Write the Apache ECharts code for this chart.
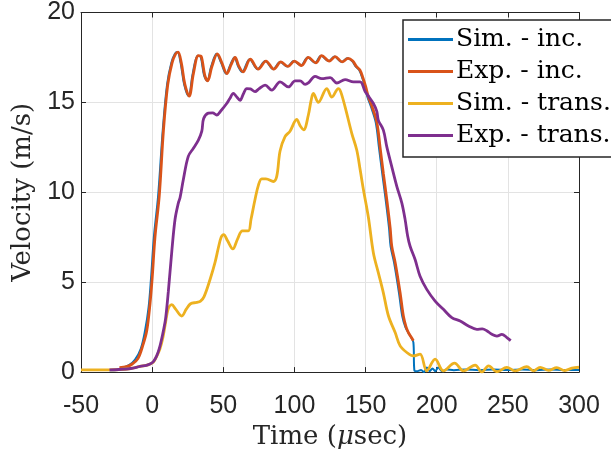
<!DOCTYPE html>
<html><head><meta charset="utf-8">
<script src="https://cdn.jsdelivr.net/npm/echarts@6/dist/echarts.min.js"></script>
<style>html,body{margin:0;padding:0;background:#fff}#c{width:611px;height:455px}</style>
</head><body><div id="c"></div>
<script>
const seriesNames = ['Sim. - inc.', 'Exp. - inc.', 'Sim. - trans.', 'Exp. - trans.'];
const xTicks = [-50, 0, 50, 100, 150, 200, 250, 300];
const yTicks = [0, 5, 10, 15, 20];

const simIncT = [-30,-25,-20,-16,-12,-8,-5,-2.5,-0.8,1.2,4.2,7.5,10.5,13.5,16,17.8,20,22.5,25.6,28.5,32,34,36.5,38.7,41.5,45.3,48.5,52,55,57.8,60.5,63.2,68.5,74,79.5,85,90,95,99.5,104.5,109.3,114.5,118.7,124,128.1,133,137.2,140.5,143,145.5,147.5,149.5,151.3,153.6,157.1,159.4,161.7,164.1,166.5,167.6,170,173.5,175.8,178,180,181.5,183.6,184.3,186,189,191,193,195,197,199,201,204,207,212,220,230,240,250,260,270,280,290,300];
const simIncV = [0.1,0.12,0.25,0.4,0.7,1.3,2.3,3.6,5.2,7.5,9.8,13.5,16.0,17.2,17.7,17.8,17.2,16.0,15.35,16.6,17.6,17.55,16.5,16.2,17.0,17.7,17.2,16.6,17.1,17.5,17.0,16.7,17.4,16.85,17.3,16.85,17.25,17.0,17.3,17.05,17.5,17.2,17.6,17.3,17.55,17.25,17.45,17.3,17.0,16.8,16.4,15.9,15.3,14.8,13.9,12.5,11.05,9.6,8.0,7.0,6.1,4.4,3.1,2.5,2.2,2.0,1.65,0.1,0.05,0.12,0.0,0.25,0.05,0.2,0.05,0.25,0.05,0.15,0.1,0.15,0.1,0.15,0.12,0.15,0.1,0.15,0.12,0.12];

const expIncT = [-23,-18,-14,-10,-6.5,-3.8,-1.5,0,2,5,8,11,14,16.5,18.2,20.5,23,26,29,32.5,34.5,37,39,42,45.8,49,52.5,55.5,58.3,61,63.8,69,74.5,80,85.5,90.5,95.5,100,105,109.8,115,119.2,124.5,128.6,133.5,137.7,141,143.5,146,148,150,152,154.4,157.9,160.2,162.5,164.9,167.3,168.4,170.8,174.3,176.6,178.5,180.1,182,183.6];
const expIncV = [0.25,0.3,0.45,0.75,1.5,2.3,3.8,5.2,7.5,9.8,13.5,16.0,17.2,17.7,17.8,17.2,16.0,15.35,16.6,17.6,17.55,16.5,16.2,17.0,17.7,17.2,16.6,17.1,17.5,17.0,16.7,17.4,16.85,17.3,16.85,17.25,17.0,17.3,17.05,17.5,17.2,17.6,17.3,17.55,17.25,17.45,17.3,17.0,16.8,16.4,15.9,15.3,14.8,13.9,12.5,11.05,9.6,8.0,7.0,6.1,4.4,3.1,2.5,2.2,1.95,1.75];

const simTransT = [-50,-30,-15,-8.5,-3,0.8,3,5.5,7.5,9.1,11.4,13.8,16.5,20.8,24,27,31.3,34,36.5,40.7,44.2,46.5,48.5,50.3,53,56.7,60,63.5,67.6,69.5,72.3,74.7,77,80,85.2,87.6,89.9,93.4,96.9,101.6,104,106.5,109.8,111.7,113.3,116.8,122.7,126.3,130.9,132.5,135.6,140.3,143.8,146.2,148.5,152,155.5,159,162.5,166.1,170.8,174.3,179,183.6,188.3,193,198.9,204.7,212.5,218.8,227,231.7,236.4,242.3,249.3,255.1,263.3,268,272.7,278.6,284.4,290,295,300];
const simTransV = [0.12,0.12,0.2,0.32,0.4,0.55,0.85,1.3,1.9,2.6,3.55,3.75,3.5,3.12,3.5,3.8,3.88,3.95,4.2,5.15,6.1,6.9,7.5,7.65,7.3,6.85,7.4,7.85,7.85,8.5,9.6,10.4,10.75,10.75,10.6,10.9,12.3,13.1,13.4,14.05,13.7,13.48,14.3,15.1,15.5,15.0,15.77,15.3,15.77,15.6,14.75,13.28,12.35,11.25,10.14,8.6,6.63,5.52,4.41,3.12,2.2,1.46,1.09,0.9,1.0,0.07,0.72,0.07,0.5,0.07,0.39,0.0,0.35,0.02,0.26,0.07,0.3,0.07,0.26,0.1,0.25,0.08,0.22,0.27];

const expTransT = [-30,-15,-8.5,-4,-1.5,1,3.2,5,6.7,7.9,9.5,11.4,13.8,16.1,18.4,19.6,21.9,25.4,29,32.5,34.9,36.2,39.5,42.5,45.4,48.5,52.4,54.5,57.1,59,61.8,64,66.5,69,72.3,75,79.4,84.1,89.9,95.8,100.5,104,107.5,110,114.5,119.2,125.1,129.8,135.6,141.5,146.2,149.7,152,155.5,157.9,159,162.5,164.9,168.4,172,175.5,177.8,179.5,181.3,184.8,188.3,193,198.9,204.7,210.6,216.5,222.3,228.2,232,235.2,238.8,242.3,245.8,249.3,252];
const expTransV = [0.12,0.2,0.32,0.38,0.45,0.6,0.9,1.3,1.85,2.3,3.0,4.5,6.7,8.5,9.4,9.7,10.7,12.0,12.45,12.9,13.4,14.1,14.4,14.42,14.3,14.55,14.94,15.2,15.5,15.35,15.12,15.45,15.77,15.75,15.6,15.75,15.96,15.68,16.14,15.86,16.2,16.2,16.0,16.1,16.45,16.32,16.38,16.08,16.27,16.14,16.14,15.6,15.35,14.94,14.5,14.0,13.46,12.54,11.43,10.32,9.4,8.48,7.6,7.0,6.26,5.33,4.6,3.95,3.49,3.03,2.84,2.57,2.38,2.4,2.3,2.1,2.0,2.1,1.92,1.75];

const colors = ['#0072BD', '#D95319', '#EDB120', '#7E2F8E'];
const widths = [2, 2.8, 2.8, 2.8];
const tArrs = [simIncT, expIncT, simTransT, expTransT];
const vArrs = [simIncV, expIncV, simTransV, expTransV];

const chart = echarts.init(document.getElementById('c'), null, {renderer: 'canvas'});
const axisCol = '#262626';
const tickFont = {fontFamily: 'Liberation Sans, Arial, sans-serif', fontSize: 25, color: axisCol};
const serif = 'DejaVu Serif, serif';

const series = seriesNames.map((n, i) => ({
  name: n, type: 'line', xAxisIndex: 0, yAxisIndex: 0,
  data: tArrs[i].map((t, k) => [t, vArrs[i][k]]),
  showSymbol: false, symbol: 'none', smooth: 0.35,
  lineStyle: {color: colors[i], width: widths[i]},
  itemStyle: {color: colors[i]},
  animation: false, clip: true
}));

chart.setOption({
  animation: false,
  grid: {left: 81, top: 12, right: 32, bottom: 82, containLabel: false},
  legend: {
    orient: 'vertical', left: 403, top: 20,
    data: seriesNames,
    icon: 'rect', itemWidth: 45, itemHeight: 3, itemGap: 7,
    padding: [7, 2, 9, 5],
    backgroundColor: '#fff', borderColor: '#262626', borderWidth: 1.5,
    textStyle: {fontFamily: serif, fontSize: 25, color: '#000', padding: [0, 0, 0, -2]}
  },
  xAxis: [{
    type: 'value', min: -50, max: 300, interval: 50, position: 'bottom',
    name: 'Time ({it|μ}sec)', nameLocation: 'middle', nameGap: 50,
    nameTextStyle: {fontFamily: serif, fontSize: 26, color: axisCol, rich: {it: {fontFamily: serif, fontSize: 26, fontStyle: 'italic', color: axisCol}}},
    axisLine: {onZero: false, lineStyle: {color: axisCol, width: 1}},
    axisTick: {inside: true, length: 5, lineStyle: {color: axisCol}},
    axisLabel: Object.assign({margin: 22, formatter: v => xTicks.includes(v) ? String(v) : ''}, tickFont),
    splitLine: {show: true, lineStyle: {color: '#e3e3e3', width: 1}}
  }, {
    type: 'value', min: -50, max: 300, interval: 50, position: 'top',
    axisLine: {onZero: false, lineStyle: {color: axisCol, width: 1}},
    axisTick: {inside: true, length: 5, lineStyle: {color: axisCol}},
    axisLabel: {show: false}, splitLine: {show: false}
  }],
  yAxis: [{
    type: 'value', min: 0, max: 20, interval: 5, position: 'left',
    name: 'Velocity (m/s)', nameLocation: 'middle', nameGap: 40,
    nameTextStyle: {fontFamily: serif, fontSize: 26, color: axisCol},
    axisLine: {show: true, onZero: false, lineStyle: {color: axisCol, width: 1}},
    axisTick: {show: true, inside: true, length: 5, lineStyle: {color: axisCol}},
    axisLabel: Object.assign({margin: 6, formatter: v => yTicks.includes(v) ? String(v) : ''}, tickFont),
    splitLine: {show: true, lineStyle: {color: '#e3e3e3', width: 1}}
  }, {
    type: 'value', min: 0, max: 20, interval: 5, position: 'right',
    axisLine: {show: true, onZero: false, lineStyle: {color: axisCol, width: 1}},
    axisTick: {show: true, inside: true, length: 5, lineStyle: {color: axisCol}},
    axisLabel: {show: false}, splitLine: {show: false}
  }],
  series: series
});
</script></body></html>
